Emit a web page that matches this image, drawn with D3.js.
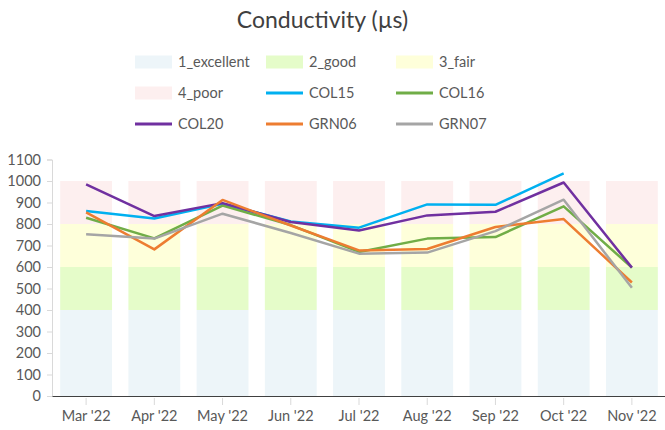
<!DOCTYPE html>
<html>
<head>
<meta charset="utf-8">
<script src="https://cdn.jsdelivr.net/npm/d3@7"></script>
<style>
  body { margin: 0; background: #fff; }
  text { font-family: Lato, "Open Sans", sans-serif; fill: #595959; }
</style>
</head>
<body>
<svg id="chart" width="665" height="430"></svg>
<script>
// chart data
const months = ["Mar '22", "Apr '22", "May '22", "Jun '22", "Jul '22", "Aug '22", "Sep '22", "Oct '22", "Nov '22"];
const bandNames = ['1_excellent', '2_good', '3_fair', '4_poor'];
const bandSizes = [400, 200, 200, 200];
const bandColors = ['#EDF5F9', '#E5FCC9', '#FEFFDA', '#FDEFEF'];

const seriesNames = ['COL15', 'COL16', 'COL20', 'GRN06', 'GRN07'];
const seriesColors = ['#00B0F0', '#70AD47', '#7030A0', '#ED7D31', '#A5A5A5'];
const col15 = [860, 826, 894, 812, 783, 891, 889, 1036, null];
const col16 = [829, 733, 886, 795, 670, 732, 739, 882, 597];
const col20 = [984, 837, 897, 809, 770, 840, 857, 993, 597];
const grn06 = [854, 682, 912, 793, 677, 684, 786, 823, 528];
const grn07 = [752, 732, 848, 758, 662, 667, 767, 913, 503];
const seriesValues = [col15, col16, col20, grn06, grn07];

const yTicks = d3.range(0, 1101, 100);

const svg = d3.select('#chart');

// plot area
const plotLeft = 52, plotRight = 666, plotTop = 159.5, plotBottom = 396;

const x = d3.scaleBand().domain(months).range([plotLeft, plotRight])
    .paddingInner(0.24).paddingOuter(0.12);
const y = d3.scaleLinear().domain([0, 1100]).range([plotBottom, plotTop]);

// title
svg.append('text')
    .attr('x', 322.5).attr('y', 28)
    .attr('text-anchor', 'middle')
    .style('font-size', '23px')
    .style('fill', '#404040')
    .text('Conductivity (µs)');

// background rating bands, stacked per month
const stackRows = months.map(m => {
    const row = {month: m};
    bandNames.forEach((b, i) => row[b] = bandSizes[i]);
    return row;
});
const stacked = d3.stack().keys(bandNames)(stackRows);

svg.append('g').selectAll('g')
    .data(stacked)
    .join('g')
    .attr('fill', (d, i) => bandColors[i])
    .selectAll('rect')
    .data(d => d)
    .join('rect')
    .attr('x', d => x(d.data.month))
    .attr('width', x.bandwidth())
    .attr('y', d => y(d[1]))
    .attr('height', d => y(d[0]) - y(d[1]));

// y axis
const yAxis = svg.append('g')
    .attr('transform', `translate(${plotLeft},0)`)
    .call(d3.axisLeft(y).tickValues(yTicks).tickFormat(d3.format('d')).tickSize(5).tickPadding(6));
yAxis.select('.domain').attr('stroke', '#D9D9D9');
yAxis.selectAll('.tick line').attr('stroke', '#D9D9D9');
yAxis.selectAll('.tick text').style('font-size', '14.5px').style('fill', '#595959');

// x axis
const xAxis = svg.append('g')
    .attr('transform', `translate(0,${plotBottom})`)
    .call(d3.axisBottom(x).tickSize(6).tickPadding(9).tickSizeOuter(0));
xAxis.select('.domain').attr('stroke', '#404040').attr('stroke-width', 1.2);
xAxis.selectAll('.tick line').attr('stroke', '#D9D9D9').attr('y1', 2).attr('y2', 9);
xAxis.selectAll('.tick text').style('font-size', '14.5px').style('fill', '#595959');

// series lines
const line = d3.line()
    .defined(d => d != null)
    .x((d, i) => x(months[i]) + x.bandwidth() / 2)
    .y(d => y(d));

svg.append('g').selectAll('path')
    .data(seriesValues)
    .join('path')
    .attr('fill', 'none')
    .attr('stroke', (d, i) => seriesColors[i])
    .attr('stroke-width', 2.5)
    .attr('stroke-linejoin', 'round')
    .attr('d', line);

// legend
const legendItems = bandNames.map((n, i) => ({name: n, color: bandColors[i], type: 'rect'}))
    .concat(seriesNames.map((n, i) => ({name: n, color: seriesColors[i], type: 'line'})));
const legendCols = [135, 266, 396];
const legendRows = [62, 93, 124];

const legend = svg.append('g').selectAll('g')
    .data(legendItems)
    .join('g')
    .attr('transform', (d, i) => `translate(${legendCols[i % 3]},${legendRows[Math.floor(i / 3)]})`);

legend.filter(d => d.type === 'rect').append('rect')
    .attr('x', 0).attr('y', -6.5)
    .attr('width', 37).attr('height', 13)
    .attr('fill', d => d.color);

legend.filter(d => d.type === 'line').append('line')
    .attr('x1', 0).attr('x2', 37)
    .attr('y1', 0).attr('y2', 0)
    .attr('stroke', d => d.color)
    .attr('stroke-width', 3);

legend.append('text')
    .attr('x', 43).attr('y', 0)
    .attr('dy', '0.35em')
    .style('font-size', '14.5px')
    .text(d => d.name);
</script>
</body>
</html>
